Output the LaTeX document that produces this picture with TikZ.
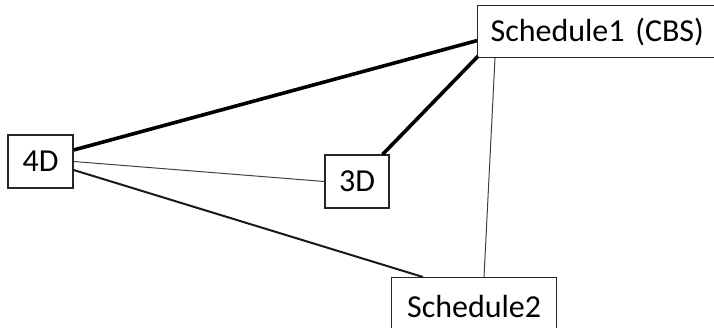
\documentclass[tikz,border=0pt]{standalone}
\usepackage{fontspec}
\setmainfont{Carlito}
\begin{document}
\begin{tikzpicture}[x=1pt,y=-1pt,
  box/.style={draw=black!85, line width=1.2pt, fill=white, font=\fontsize{32}{36}\selectfont, inner sep=0pt},
  thickline/.style={line width=3.6pt, draw=black},
  midline/.style={line width=2pt, draw=black!90},
  thinline/.style={line width=1pt, draw=black!75}]
\useasboundingbox (0,0) rectangle (714,328);
\node[box, minimum width=65, minimum height=53] (d4) at (40.5,161.5) {4D};
\node[box, minimum width=64, minimum height=53] (d3) at (357,181.5) {3D};
\node[box, anchor=north west, minimum width=245, minimum height=52, text width=220, inner xsep=13, align=left] (s1) at (477,5) {Schedule1 (CBS)};
\node[box, anchor=north west, minimum width=165, minimum height=57] (s2) at (391,277) {Schedule2};
\draw[thickline] ([yshift=11.5]d4.east) -- ([yshift=-9]s1.west);
\draw[thickline] ([xshift=-7]d3.north east) -- ([xshift=1,yshift=2]s1.south west);
\draw[thinline] (d4.east) -- (d3.west);
\draw[midline] ([yshift=-8.5]d4.east) -- ([xshift=32]s2.north west);
\draw[thinline] ([xshift=18]s1.south west) -- ([xshift=93]s2.north west);
\end{tikzpicture}
\end{document}
